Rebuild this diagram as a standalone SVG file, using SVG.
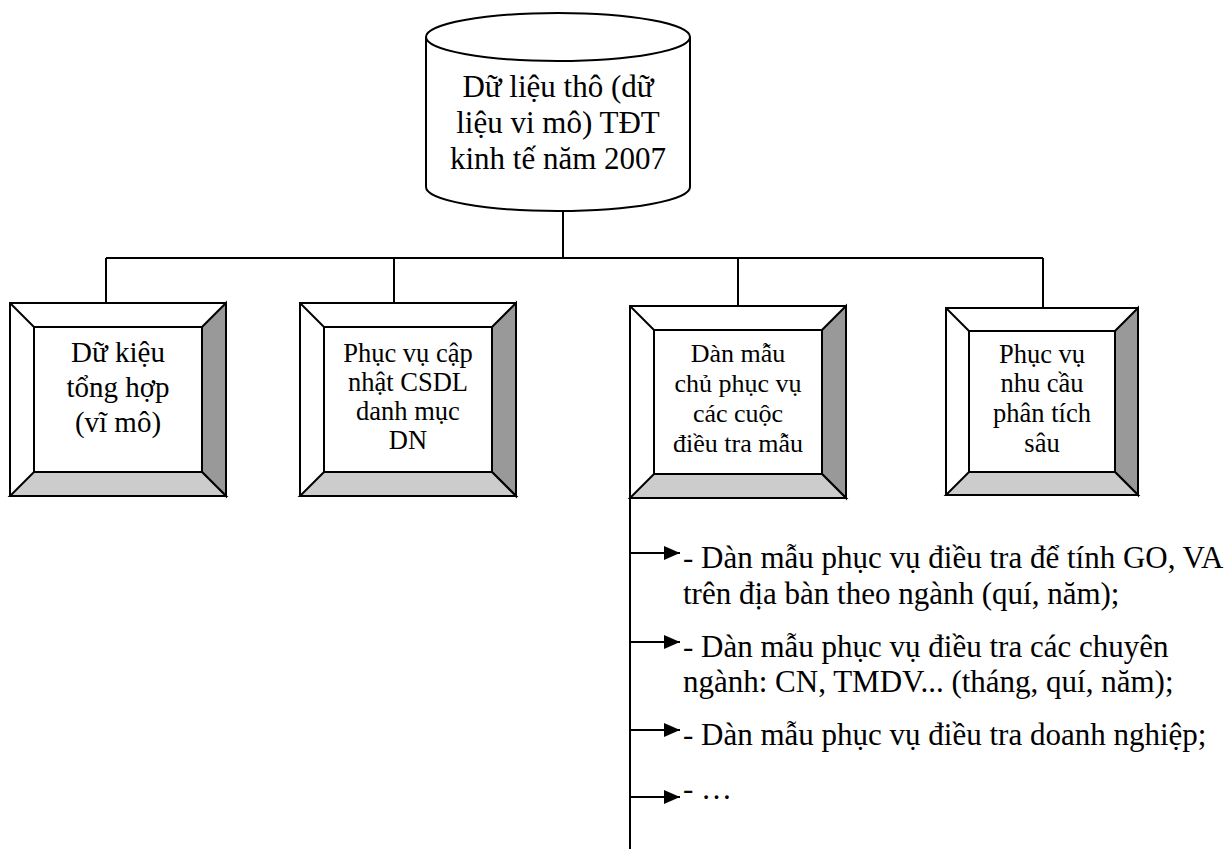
<svg xmlns="http://www.w3.org/2000/svg" width="1229" height="849" viewBox="0 0 1229 849">
<defs>
<style>
.ln{fill:none;stroke:#000;stroke-width:2}
.ol{fill:#fff;stroke:#000;stroke-width:2}
.dk{fill:#999;stroke:#000;stroke-width:2;stroke-linejoin:miter}
.lt{fill:#ccc;stroke:#000;stroke-width:2;stroke-linejoin:miter}
.t{font-family:"Liberation Serif","Times New Roman",serif;fill:#000}
.c{text-anchor:middle}
</style>
<marker id="ah" markerWidth="16" markerHeight="14" refX="16" refY="7" orient="auto" markerUnits="userSpaceOnUse">
<path d="M0,0 L16,7 L0,14 Z" fill="#000"/>
</marker>
</defs>
<rect width="1229" height="849" fill="#fff"/>

<g id="connectors">
<path class="ln" d="M563,211 V258 M106,258 H1043 M106,258 V303 M394,258 V304 M738,258 V306 M1043,258 V308"/>
<path class="ln" d="M630,498 V849"/>
<path class="ln" d="M630,553 H680" marker-end="url(#ah)"/>
<path class="ln" d="M630,642 H680" marker-end="url(#ah)"/>
<path class="ln" d="M630,730 H680" marker-end="url(#ah)"/>
<path class="ln" d="M630,797 H680" marker-end="url(#ah)"/>
</g>

<g id="source">
<path class="ol" d="M426,37 V187 A132,24 0 0 0 690,187 V37"/>
<ellipse class="ol" cx="558" cy="37" rx="132" ry="24"/>
<text class="t c" font-size="31" x="558"><tspan x="558" y="97">Dữ liệu thô (dữ</tspan><tspan x="558" y="133">liệu vi mô) TĐT</tspan><tspan x="558" y="169">kinh tế năm 2007</tspan></text>
</g>

<g id="box1">
<rect class="ol" x="10" y="303" width="216" height="193"/>
<polygon class="dk" points="226,303 226,496 202,472 202,327"/>
<polygon class="lt" points="10,496 226,496 202,472 34,472"/>
<line class="ln" x1="10" y1="303" x2="34" y2="327"/>
<rect class="ol" x="34" y="327" width="168" height="145"/>
<text class="t c" font-size="29"><tspan x="118" y="362">Dữ kiệu</tspan><tspan x="118" y="397">tổng hợp</tspan><tspan x="118" y="432">(vĩ mô)</tspan></text>
</g>

<g id="box2">
<rect class="ol" x="300" y="303" width="216" height="193"/>
<polygon class="dk" points="516,303 516,496 492,472 492,327"/>
<polygon class="lt" points="300,496 516,496 492,472 324,472"/>
<line class="ln" x1="300" y1="303" x2="324" y2="327"/>
<rect class="ol" x="324" y="327" width="168" height="145"/>
<text class="t c" font-size="26.5"><tspan x="408" y="362">Phục vụ cập</tspan><tspan x="408" y="391">nhật CSDL</tspan><tspan x="408" y="420">danh mục</tspan><tspan x="408" y="449">DN</tspan></text>
</g>

<g id="box3">
<rect class="ol" x="630" y="306" width="216" height="192"/>
<polygon class="dk" points="846,306 846,498 822,474 822,330"/>
<polygon class="lt" points="630,498 846,498 822,474 654,474"/>
<line class="ln" x1="630" y1="306" x2="654" y2="330"/>
<rect class="ol" x="654" y="330" width="168" height="144"/>
<text class="t c" font-size="26"><tspan x="738" y="362">Dàn mẫu</tspan><tspan x="738" y="392">chủ phục vụ</tspan><tspan x="738" y="422">các cuộc</tspan><tspan x="738" y="452">điều tra mẫu</tspan></text>
</g>

<g id="box4">
<rect class="ol" x="946" y="308" width="192" height="187"/>
<polygon class="dk" points="1138,308 1138,495 1115,472 1115,331"/>
<polygon class="lt" points="946,495 1138,495 1115,472 969,472"/>
<line class="ln" x1="946" y1="308" x2="969" y2="331"/>
<rect class="ol" x="969" y="331" width="146" height="141"/>
<text class="t c" font-size="26.5"><tspan x="1042" y="363">Phục vụ</tspan><tspan x="1042" y="392">nhu cầu</tspan><tspan x="1042" y="422">phân tích</tspan><tspan x="1042" y="452">sâu</tspan></text>
</g>

<g id="list">
<text class="t" font-size="31"><tspan x="683" y="568">- Dàn mẫu phục vụ điều tra để tính GO, VA</tspan><tspan x="683" y="604">trên địa bàn theo ngành (quí, năm);</tspan></text>
<text class="t" font-size="31"><tspan x="683" y="657">- Dàn mẫu phục vụ điều tra các chuyên</tspan><tspan x="683" y="692">ngành: CN, TMDV... (tháng, quí, năm);</tspan></text>
<text class="t" font-size="31" x="683" y="745">- Dàn mẫu phục vụ điều tra doanh nghiệp;</text>
<text class="t" font-size="31" x="683" y="799">- …</text>
</g>
</svg>
